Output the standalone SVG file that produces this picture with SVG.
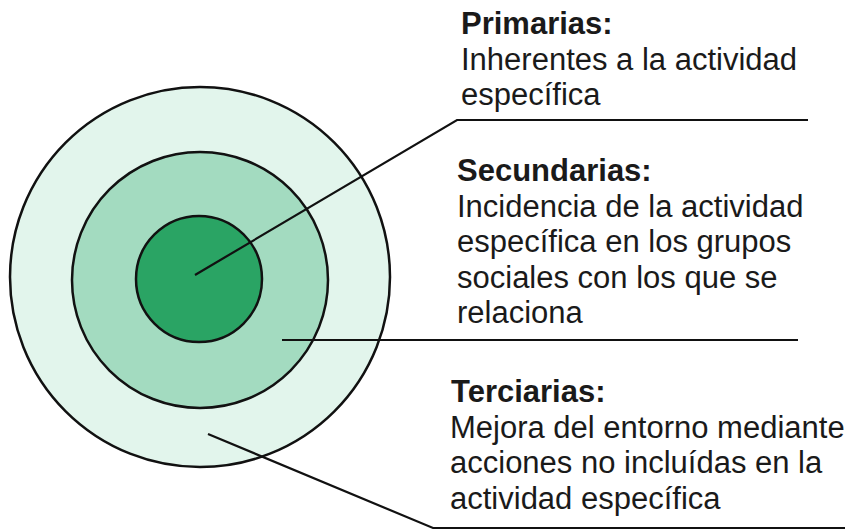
<svg xmlns="http://www.w3.org/2000/svg" width="851" height="531" viewBox="0 0 851 531">
<style>
.ring{stroke:#111;stroke-width:2.5}
.lead{fill:none;stroke:#111;stroke-width:2.2}
text{font-family:"Liberation Sans",Arial,sans-serif;font-size:31px;fill:#1a1a1a}
.h{font-weight:bold}
</style>
<rect width="851" height="531" fill="#ffffff"/>
<g id="outer"><circle class="ring" cx="200" cy="277" r="190" fill="#e2f5ec"/></g>
<g id="middle"><circle class="ring" cx="200" cy="280" r="128" fill="#a3dbc0"/></g>
<g id="inner"><circle class="ring" cx="199" cy="279" r="63" fill="#2aa464"/></g>
<g id="connectors">
<polyline class="lead" points="195,275 457,120 808,120"/>
<polyline class="lead" points="282,340 798,340"/>
<polyline class="lead" points="208,434 433,528 845,528"/>
</g>
<g id="primarias">
<text class="h" x="461" y="34">Primarias:</text>
<text x="461" y="70">Inherentes a la actividad</text>
<text x="461" y="105">específica</text>
</g>
<g id="secundarias">
<text class="h" x="457" y="181">Secundarias:</text>
<text x="457" y="217">Incidencia de la actividad</text>
<text x="457" y="252">específica en los grupos</text>
<text x="457" y="288">sociales con los que se</text>
<text x="457" y="323">relaciona</text>
</g>
<g id="terciarias">
<text class="h" x="451" y="402">Terciarias:</text>
<text x="450" y="438">Mejora del entorno mediante</text>
<text x="450" y="473">acciones no incluídas en la</text>
<text x="450" y="509">actividad específica</text>
</g>
</svg>
